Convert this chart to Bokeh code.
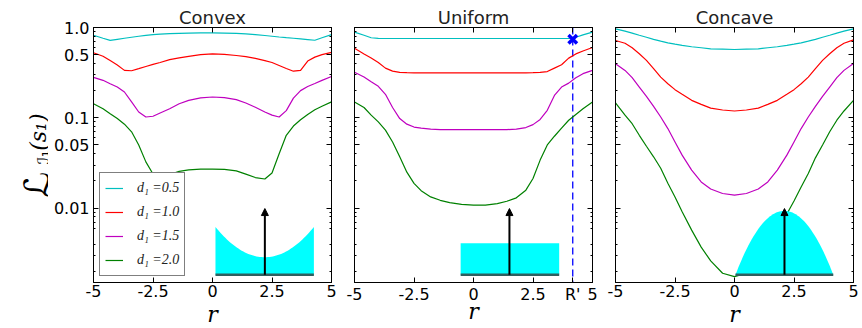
import math
import numpy as np
from bokeh.plotting import figure
from bokeh.models import (Range1d, LinearScale, FixedTicker, LinearAxis, LogAxis, Span,
                          Arrow, NormalHead, Legend, LegendItem, CustomJSTickFormatter)
from bokeh.core.properties import value
from bokeh.layouts import row
from bokeh.embed import file_html
from bokeh.resources import INLINE

# ---------------- data ----------------
r = [-5.0, -4.6, -4.3, -4.0, -3.7, -3.4, -3.1, -2.8, -2.5, -2.2, -1.8, -1.4, -1.0, -0.5, 0.0,
     0.5, 1.0, 1.4, 1.8, 2.2, 2.5, 2.8, 3.1, 3.4, 3.7, 4.0, 4.3, 4.6, 5.0]

convex_d05 = [0.82, 0.76, 0.72, 0.74, 0.76, 0.78, 0.80, 0.82, 0.835, 0.845, 0.855, 0.862, 0.868, 0.872, 0.872,
              0.868, 0.86, 0.848, 0.835, 0.815, 0.80, 0.785, 0.772, 0.76, 0.748, 0.735, 0.722, 0.77, 0.835]
convex_d10 = [0.525, 0.48, 0.43, 0.385, 0.335, 0.332, 0.35, 0.37, 0.39, 0.41, 0.44, 0.46, 0.48, 0.50, 0.51,
              0.505, 0.49, 0.475, 0.455, 0.43, 0.41, 0.38, 0.352, 0.328, 0.335, 0.425, 0.47, 0.50, 0.53]
convex_d15 = [0.28, 0.26, 0.238, 0.219, 0.193, 0.15, 0.116, 0.102, 0.104, 0.113, 0.126, 0.143, 0.156, 0.166, 0.17,
              0.167, 0.159, 0.146, 0.131, 0.116, 0.107, 0.102, 0.12, 0.165, 0.2, 0.222, 0.24, 0.26, 0.287]
convex_d20 = [0.143, 0.126, 0.111, 0.098, 0.085, 0.070, 0.050, 0.0325, 0.0239, 0.0215, 0.0235, 0.0255, 0.0265, 0.027, 0.027,
              0.0268, 0.0258, 0.0238, 0.0218, 0.021, 0.0245, 0.040, 0.064, 0.081, 0.095, 0.109, 0.123, 0.134, 0.15]

uniform_d05 = [0.89, 0.82, 0.77, 0.757, 0.755, 0.755, 0.755, 0.755, 0.755, 0.755, 0.755, 0.755, 0.755, 0.755, 0.755,
               0.755, 0.755, 0.755, 0.755, 0.755, 0.755, 0.755, 0.755, 0.755, 0.755, 0.755, 0.78, 0.83, 0.89]
uniform_d10 = [0.59, 0.51, 0.46, 0.41, 0.355, 0.329, 0.318, 0.316, 0.315, 0.315, 0.315, 0.315, 0.315, 0.315, 0.315,
               0.315, 0.315, 0.315, 0.315, 0.315, 0.316, 0.318, 0.325, 0.355, 0.387, 0.458, 0.51, 0.55, 0.60]
uniform_d15 = [0.32, 0.283, 0.251, 0.223, 0.182, 0.13, 0.098, 0.085, 0.079, 0.077, 0.075, 0.074, 0.074, 0.074, 0.074,
               0.074, 0.074, 0.074, 0.075, 0.078, 0.084, 0.096, 0.121, 0.177, 0.219, 0.242, 0.278, 0.308, 0.335]
uniform_d20 = [0.15, 0.13, 0.107, 0.090, 0.073, 0.054, 0.037, 0.025, 0.0188, 0.0156, 0.0133, 0.0122, 0.0115, 0.011, 0.0108,
               0.0108, 0.0112, 0.0119, 0.013, 0.0158, 0.0213, 0.034, 0.05, 0.0625, 0.077, 0.094, 0.109, 0.126, 0.15]

concave_d05 = [0.967, 0.91, 0.866, 0.82, 0.78, 0.74, 0.706, 0.677, 0.654, 0.633, 0.612, 0.597, 0.58, 0.576, 0.571,
               0.576, 0.58, 0.597, 0.612, 0.633, 0.654, 0.677, 0.706, 0.74, 0.78, 0.82, 0.866, 0.91, 0.967]
concave_d10 = [0.718, 0.67, 0.597, 0.512, 0.432, 0.35, 0.282, 0.238, 0.205, 0.182, 0.156, 0.141, 0.128, 0.122, 0.119,
               0.122, 0.128, 0.141, 0.156, 0.182, 0.205, 0.238, 0.282, 0.35, 0.432, 0.512, 0.597, 0.67, 0.73]
concave_d15 = [0.397, 0.335, 0.278, 0.219, 0.173, 0.134, 0.102, 0.076, 0.054, 0.0386, 0.0263, 0.0195, 0.0163, 0.0145, 0.0139,
               0.0145, 0.0163, 0.0195, 0.0263, 0.0386, 0.054, 0.076, 0.102, 0.134, 0.173, 0.219, 0.278, 0.335, 0.40]
concave_d20 = [0.146, 0.107, 0.086, 0.064, 0.0484, 0.037, 0.0276, 0.0188, 0.0133, 0.0091, 0.0057, 0.0037, 0.0026, 0.0019, 0.00174,
               0.0019, 0.0026, 0.0036, 0.0055, 0.0086, 0.012, 0.0171, 0.0242, 0.036, 0.05, 0.07, 0.094, 0.119, 0.156]

series_labels = ["d\u2081 =0.5", "d\u2081 =1.0", "d\u2081 =1.5", "d\u2081 =2.0"]
series_colors = ["#00BFBF", "#FF0000", "#BF00BF", "#008000"]
panel_titles = ["Convex", "Uniform", "Concave"]
x_label = "r"
y_label_parts = ["\u2112", "\u2110\u2081", "(s\u2081)"]

x_ticks = [-5, -2.5, 0, 2.5, 5]
x_tick_labels = ["-5", "-2.5", "0", "2.5", "5"]
r_prime = 4.17
x_ticks_uniform = [-5, -2.5, 0, 2.5, r_prime, 5]
x_tick_labels_uniform = ["-5", "-2.5", "0", "2.5", "R'", "5"]
y_ticks = [0.01, 0.05, 0.1, 0.5, 1.0]
y_tick_labels = ["0.01", "0.05", "0.1", "0.5", "1.0"]
y_min, y_max = 0.0015, 1.0
marker_value = 0.74

# insets (x extent in r, heights as fraction of the panel height)
inset_convex = dict(x0=0.125, x1=4.26, base=0.03, edge=0.218, low=0.099, arrow_x=2.2, arrow_top=0.29)
inset_uniform = dict(x0=-0.54, x1=3.6, base=0.03, top=0.154, arrow_x=1.51, arrow_top=0.29)
inset_concave = dict(x0=0.04, x1=4.15, base=0.03, peak=0.281, arrow_x=2.1, arrow_top=0.29)

# ---------------- layout constants ----------------
FW, FH = 238, 255
MB_TOP, MB_BOTTOM = 27, 46
YLAB_W = 48
INSET_CYAN = "#00FFFF"
INSET_BASE = "#2F5F5F"


def fmt(ticks, labels):
    return CustomJSTickFormatter(args=dict(tv=list(ticks), tl=list(labels)), code="""
        for (let i = 0; i < tv.length; i++) {
            if (Math.abs(tv[i] - tick) <= 1e-6 * Math.max(1e-4, Math.abs(tv[i]))) return tl[i];
        }
        return '';
    """)


def style_axis(ax, ticks, labels, minor=(), show=True):
    ax.ticker = FixedTicker(ticks=list(ticks), minor_ticks=list(minor))
    ax.formatter = fmt(ticks, labels if show else [""] * len(ticks))
    ax.major_tick_in, ax.major_tick_out = 5, 0
    ax.minor_tick_in, ax.minor_tick_out = 2, 0
    ax.axis_line_color = "black"
    ax.major_tick_line_color = "black"
    ax.minor_tick_line_color = "black"
    ax.major_label_text_font = "DejaVu Sans"
    ax.major_label_text_color = "black"
    ax.major_label_text_font_size = "16px" if show else "0px"
    ax.major_label_standoff = 4 if show else 0


minor_y = [k * 10.0 ** e for e in (-3, -2, -1) for k in range(2, 10) if k != 5 and k * 10.0 ** e >= y_min]


def make_panel(title, curves, xt, xtl, mbl, mbr, show_y, xlab_standoff):
    p = figure(frame_width=FW, frame_height=FH, x_range=Range1d(-5, 5), y_range=Range1d(y_min, y_max),
               y_axis_type="log", output_backend="svg", toolbar_location=None, align="start",
               min_border_left=mbl, min_border_right=mbr, min_border_top=MB_TOP, min_border_bottom=MB_BOTTOM)
    p.outline_line_color = "black"
    p.grid.visible = False
    p.background_fill_color = "white"
    p.border_fill_color = "white"
    p.extra_y_ranges = {"inset": Range1d(0, 1)}
    p.extra_y_scales = {"inset": LinearScale()}

    p.title.text = title
    p.title.align = "center"
    p.title.text_font = "DejaVu Sans"
    p.title.text_font_style = "normal"
    p.title.text_font_size = "18px"
    p.title.text_color = "#222222"
    p.title.standoff = 0
    p.title.offset = 0

    bx = p.below[0]
    style_axis(bx, xt, xtl)
    bx.major_label_standoff = 2
    bx.axis_label = x_label
    bx.axis_label_text_font = "DejaVu Serif"
    bx.axis_label_text_font_style = "italic"
    bx.axis_label_text_font_size = "22px"
    bx.axis_label_text_color = "black"
    bx.axis_label_standoff = xlab_standoff

    style_axis(p.left[0], y_ticks, y_tick_labels, minor_y, show=show_y)
    top_ax = LinearAxis()
    style_axis(top_ax, xt, xtl, show=False)
    p.add_layout(top_ax, "above")
    right_ax = LogAxis()
    style_axis(right_ax, y_ticks, y_tick_labels, minor_y, show=False)
    p.add_layout(right_ax, "right")

    rends = []
    for vals, col in zip(curves, series_colors):
        rends.append(p.line(r, vals, line_color=col, line_width=1.2))
    return p, rends


def add_arrow(p, ins):
    p.add_layout(Arrow(x_start=ins["arrow_x"], y_start=ins["base"], x_end=ins["arrow_x"], y_end=ins["arrow_top"],
                       line_color="black", line_width=2,
                       end=NormalHead(size=7, fill_color="black", line_color="black"),
                       y_range_name="inset"))


def add_base(p, ins):
    p.line([ins["x0"], ins["x1"]], [ins["base"], ins["base"]], line_color=INSET_BASE, line_width=2.5,
           y_range_name="inset")


# ---------------- y-axis label strip (same vertical structure as the panels) ----------------
py = figure(title=None, frame_width=YLAB_W, frame_height=FH, x_range=Range1d(0, YLAB_W),
            y_range=Range1d(0, FH), output_backend="svg", toolbar_location=None, align="start",
            min_border_left=0, min_border_right=0, min_border_top=MB_TOP, min_border_bottom=MB_BOTTOM,
            x_axis_location=None, y_axis_location=None)
py.outline_line_color = None
py.grid.visible = False
py.border_fill_color = "white"
py.background_fill_color = "white"
# anchors at the upper end of each piece (strip frame pixels: x from left, y from frame bottom)
ylab_x = [37, 43, 38]
ylab_y = [111, 132, 169]
ylab_sizes = ["36px", "16px", "22px"]
ylab_fonts = ["DejaVu Sans", "DejaVu Sans", "DejaVu Serif"]
ylab_styles = ["normal", "normal", "italic"]
for t, xx, yy, sz, fn, st in zip(y_label_parts, ylab_x, ylab_y, ylab_sizes, ylab_fonts, ylab_styles):
    py.text(x=[xx], y=[yy], text=[t], angle=math.pi / 2, text_align="right", text_baseline="alphabetic",
            text_font=value(fn), text_font_size=value(sz), text_font_style=st, text_color="black")

# ---------------- panel 1: convex ----------------
p1, rends1 = make_panel(panel_titles[0], [convex_d05, convex_d10, convex_d15, convex_d20],
                        x_ticks, x_tick_labels, 93 - YLAB_W, 12, True, 2)
xs = np.linspace(inset_convex["x0"], inset_convex["x1"], 61)
c = 0.5 * (inset_convex["x0"] + inset_convex["x1"])
h = 0.5 * (inset_convex["x1"] - inset_convex["x0"])
prof = inset_convex["low"] + (inset_convex["edge"] - inset_convex["low"]) * ((xs - c) / h) ** 2
p1.varea(x=xs, y1=np.full_like(xs, inset_convex["base"]), y2=prof, fill_color=INSET_CYAN, y_range_name="inset")
add_base(p1, inset_convex)
add_arrow(p1, inset_convex)

legend = Legend(items=[LegendItem(label=lab, renderers=[rr]) for lab, rr in zip(series_labels, rends1)],
                location=(6, 6), padding=5, spacing=4, glyph_height=20, glyph_width=18, label_standoff=14,
                border_line_color="black", border_line_width=1, background_fill_color="white",
                background_fill_alpha=1.0, label_text_font="Liberation Serif", label_text_font_style="italic",
                label_text_font_size="14px", label_text_color="#222222", margin=0)
p1.add_layout(legend)

# ---------------- panel 2: uniform ----------------
p2, rends2 = make_panel(panel_titles[1], [uniform_d05, uniform_d10, uniform_d15, uniform_d20],
                        x_ticks_uniform, x_tick_labels_uniform, 11, 12, False, -8)
p2.varea(x=[inset_uniform["x0"], inset_uniform["x1"]],
         y1=[inset_uniform["base"], inset_uniform["base"]],
         y2=[inset_uniform["top"], inset_uniform["top"]], fill_color=INSET_CYAN, y_range_name="inset")
add_base(p2, inset_uniform)
add_arrow(p2, inset_uniform)
p2.add_layout(Span(location=r_prime, dimension="height", line_color="blue", line_width=1.3,
                   line_dash="7 4", level="underlay"))
p2.scatter([r_prime], [marker_value], marker="x", size=12, line_width=3.5, line_color="blue")

# ---------------- panel 3: concave ----------------
p3, rends3 = make_panel(panel_titles[2], [concave_d05, concave_d10, concave_d15, concave_d20],
                        x_ticks, x_tick_labels, 11, 9, False, 2)
xs3 = np.linspace(inset_concave["x0"], inset_concave["x1"], 61)
c3 = 0.5 * (inset_concave["x0"] + inset_concave["x1"])
h3 = 0.5 * (inset_concave["x1"] - inset_concave["x0"])
prof3 = inset_concave["peak"] - (inset_concave["peak"] - inset_concave["base"]) * ((xs3 - c3) / h3) ** 2
p3.varea(x=xs3, y1=np.full_like(xs3, inset_concave["base"]), y2=prof3, fill_color=INSET_CYAN, y_range_name="inset")
add_base(p3, inset_concave)
add_arrow(p3, inset_concave)

layout = row(py, p1, p2, p3, align="start")
open("out.html", "w").write(file_html(layout, INLINE))
